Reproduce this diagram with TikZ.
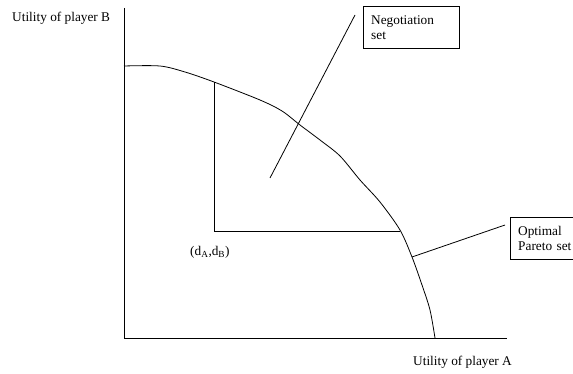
\documentclass[tikz,border=0pt]{standalone}
\usepackage{fontspec}
\setmainfont{Liberation Serif}
\begin{document}
\begin{tikzpicture}[x=1pt,y=-1pt,
  lbl/.style={inner sep=0pt,font=\fontsize{13.3}{15}\selectfont},
  boxlbl/.style={draw,thin,align=left,inner xsep=8pt,inner ysep=4pt,font=\fontsize{13.3}{15}\selectfont,anchor=north west},
  ln/.style={line width=0.8pt}]
\useasboundingbox (0,0) rectangle (573,374);
% axes
\coordinate (O) at (124,338);
\coordinate (Ytop) at (124,8);
\coordinate (Xend) at (507,338);
\draw[ln] (Ytop) -- (O) -- (Xend);
\node[lbl,anchor=west] (ylab) at (12,18) {Utility of player B};
\node[lbl,anchor=west] (xlab) at (413,362) {Utility of player A};
% frontier
\draw[ln] plot[smooth,tension=0.5] coordinates {(124,66) (160,66) (185,72) (214,82) (260,100) (282,111) (300,125) (320,140) (340,156) (360,180) (380,202) (400,230) (412,257) (422,285) (430,310) (435,338)};
% disagreement point
\coordinate (D) at (214,231);
\coordinate (Dtop) at (214,82);
\coordinate (Dright) at (400,231);
\draw[ln] (Dtop) -- (D) -- (Dright);
\node[lbl,anchor=west] (dlab) at (190,252) {(d\textsubscript{A},d\textsubscript{B})};
% negotiation set
\node[boxlbl,text width=80pt,minimum height=42pt] (neg) at (363,6) {Negotiation\\set};
\coordinate (negpt) at (270,178);
\draw[ln] (negpt) -- (355,15);
% Pareto
\node[boxlbl,text width=70pt,minimum height=42pt] (par) at (510,217) {Optimal\\Pareto set};
\coordinate (parpt) at (412,257);
\draw[ln] (parpt) -- (505,225);
\end{tikzpicture}
\end{document}
